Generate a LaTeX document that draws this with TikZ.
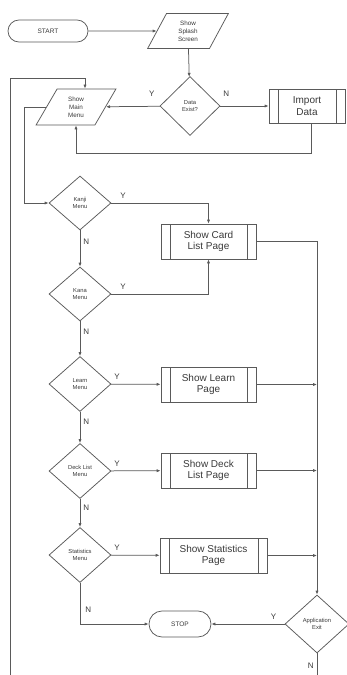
\documentclass[tikz,border=0pt]{standalone}
\usepackage{fontspec}
\setmainfont{Liberation Sans}
\usetikzlibrary{shapes.geometric,shapes.misc,arrows.meta}
\definecolor{ln}{HTML}{5A5A5A}
\definecolor{tx}{HTML}{3A3A3A}
\tikzset{
  base/.style={draw=ln, line width=0.75pt, text=tx, align=center, inner sep=0pt},
  term/.style={base, rounded rectangle, font=\fontsize{6.5}{7.5}\selectfont},
  io/.style={base, trapezium, trapezium left angle=67, trapezium right angle=113,
    trapezium stretches=true, font=\fontsize{6.3}{8}\selectfont},
  decide/.style={base, diamond, font=\fontsize{5.8}{7.5}\selectfont},
  proc/.style={base, rectangle, font=\fontsize{10}{11.5}\selectfont,
    path picture={
      \draw[ln, line width=0.75pt]
        ([xshift=9pt]path picture bounding box.north west) --
        ([xshift=9pt]path picture bounding box.south west)
        ([xshift=-9pt]path picture bounding box.north east) --
        ([xshift=-9pt]path picture bounding box.south east);}},
  link/.style={draw=ln, line width=0.75pt, -{Latex[length=4pt,width=3.2pt]}},
  plain/.style={draw=ln, line width=0.75pt},
  yn/.style={text=tx, font=\fontsize{8}{9}\selectfont, inner sep=0pt}
}
\begin{document}
\begin{tikzpicture}[x=1pt,y=-1pt]
\useasboundingbox[fill=white] (0,0) rectangle (347,675);

% terminals and input/output steps
\node[term, minimum width=80pt, minimum height=22pt] (start) at (48,31) {START};
\node[io, minimum width=81pt, minimum height=35pt] (splash) at (188,31) {Show\\Splash\\Screen};
\node[decide, minimum width=60pt, minimum height=59pt] (data) at (190,106) {Data\\Exist?};
\node[io, minimum width=80pt, minimum height=36pt] (menu) at (76,107) {Show\\Main\\Menu};
\node[proc, minimum width=76pt, minimum height=34pt] (import) at (307,106) {Import\\Data};

% menu decisions
\node[decide, minimum width=62pt, minimum height=54pt] (kanji) at (80,203) {Kanji\\Menu};
\node[decide, minimum width=62pt, minimum height=54pt] (kana) at (80,294) {Kana\\Menu};
\node[decide, minimum width=62pt, minimum height=55pt] (learn) at (80,384) {Learn\\Menu};
\node[decide, minimum width=62pt, minimum height=55pt] (deck) at (80,471) {Deck List\\Menu};
\node[decide, minimum width=62pt, minimum height=55pt] (stats) at (80,555) {Statistics\\Menu};

% pages
\node[proc, minimum width=95pt, minimum height=35pt] (card) at (208.5,241.5) {Show Card\\List Page};
\node[proc, minimum width=95pt, minimum height=35pt] (learnpg) at (208.5,384.5) {Show Learn\\Page};
\node[proc, minimum width=95pt, minimum height=35pt] (deckpg) at (208.5,470.5) {Show Deck\\List Page};
\node[proc, minimum width=107pt, minimum height=35pt] (statspg) at (213.5,555.5) {Show Statistics\\Page};

\node[term, minimum width=62pt, minimum height=26pt] (stop) at (180,624) {STOP};
\node[decide, minimum width=64pt, minimum height=58pt] (appexit) at (317,624) {Application\\Exit};

% free ends of the loops leaving the page
\coordinate (loopbot) at (10,675);
\coordinate (looptop) at (85,78);
\coordinate (exitbot) at (317,675);

% start-up
\draw[link] (start) -- (splash);
\draw[link] (splash) -- (data);
\draw[link] (data) -- node[yn, above, pos=0.15, yshift=9pt] {Y} (menu);
\draw[link] (data) -- node[yn, above, pos=0.12, yshift=9pt] {N} (import);
\draw[link] ([xshift=4pt]import.south) -- ++(0,30) -| (menu.south);
\draw[link] (loopbot) |- (looptop) -- (looptop |- menu.north);

% main menu dispatch
\draw[link] (menu.west) -- ++(-22,0) |- (kanji.west);
\draw[link] (kanji.east) -| node[yn, pos=0.06, above, yshift=4pt] {Y} (card.north);
\draw[link] (kanji) -- node[yn, right, xshift=3pt, pos=0.3] {N} (kana);
\draw[link] (kana.east) -| node[yn, pos=0.06, above, yshift=4pt] {Y} (card.south);
\draw[link] (kana) -- node[yn, right, xshift=3pt, pos=0.3] {N} (learn);
\draw[link] (learn) -- node[yn, pos=0.12, above, yshift=4pt] {Y} (learnpg);
\draw[link] (learn) -- node[yn, right, xshift=3pt, pos=0.3] {N} (deck);
\draw[link] (deck) -- node[yn, pos=0.12, above, yshift=4pt] {Y} (deckpg);
\draw[link] (deck) -- node[yn, right, xshift=3pt, pos=0.3] {N} (stats);
\draw[link] (stats) -- node[yn, pos=0.12, above, yshift=4pt] {Y} (statspg);
\draw[link] (stats.south) |- node[yn, pos=0.33, right, xshift=5pt] {N} (stop.west);

% pages return to the exit check
\draw[link] (card.east) -| (appexit.north);
\draw[link] (learnpg.east) -- (learnpg.east -| appexit.north);
\draw[link] (deckpg.east) -- (deckpg.east -| appexit.north);
\draw[link] (statspg.east) -- (statspg.east -| appexit.north);
\draw[link] (appexit.west) -- node[yn, pos=0.15, above, yshift=4pt] {Y} (stop.east);
\draw[plain] (appexit.south) -- node[yn, left, xshift=-3pt, pos=0.55] {N} (exitbot);
\end{tikzpicture}
\end{document}
